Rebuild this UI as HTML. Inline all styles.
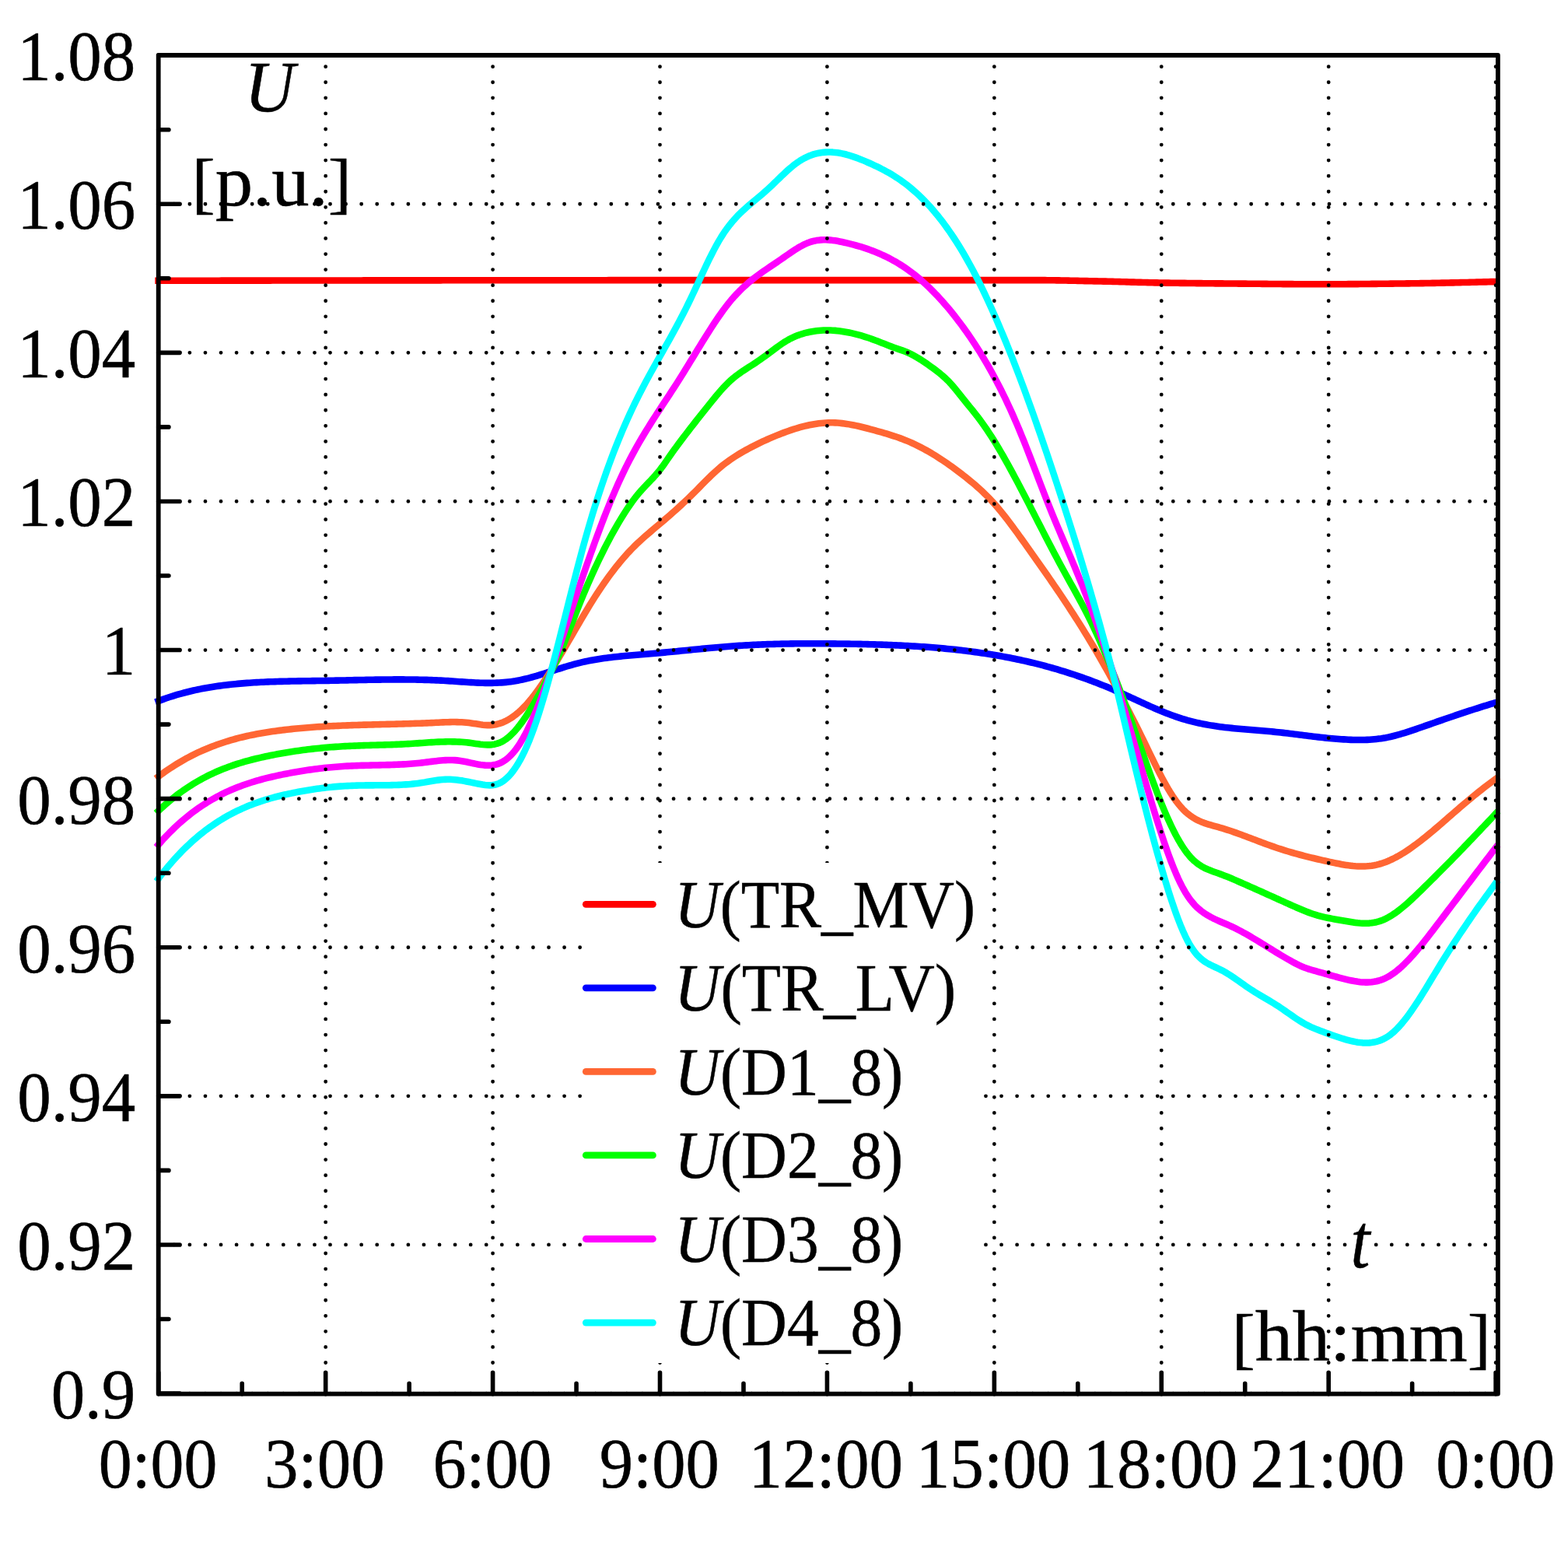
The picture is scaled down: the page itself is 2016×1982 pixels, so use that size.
<!DOCTYPE html>
<html lang="en">
<head>
<meta charset="utf-8">
<title>Voltage profile U [p.u.] over t [hh:mm]</title>
<style>
html,body{margin:0;padding:0;background:#fff;}
body{width:2016px;height:1982px;overflow:hidden;}
svg{display:block;}
text{font-family:"Liberation Serif", serif;fill:#000;}
</style>
</head>
<body>
<svg xmlns="http://www.w3.org/2000/svg" width="2016" height="1982" viewBox="0 0 2016 1982">
<rect width="2016" height="1982" fill="#fff"/>
<g fill="none" stroke-width="8.6" stroke-linejoin="round" stroke-linecap="square">
<path stroke="#ff0000" d="M203.6 360.8 L206.6 360.8 L209.6 360.79 L212.6 360.79 L215.6 360.78 L218.6 360.78 L221.6 360.77 L224.6 360.77 L227.6 360.76 L230.6 360.76 L233.6 360.75 L236.6 360.75 L239.6 360.74 L242.6 360.74 L245.6 360.73 L248.6 360.73 L251.6 360.72 L254.6 360.72 L257.6 360.71 L260.6 360.71 L263.6 360.7 L266.6 360.7 L269.6 360.69 L272.6 360.69 L275.6 360.69 L278.6 360.68 L281.6 360.68 L284.6 360.67 L287.6 360.67 L290.6 360.66 L293.6 360.66 L296.6 360.65 L299.6 360.65 L302.6 360.64 L305.6 360.64 L308.6 360.63 L311.6 360.63 L314.6 360.63 L317.6 360.62 L320.6 360.62 L323.6 360.61 L326.6 360.61 L329.6 360.6 L332.6 360.6 L335.6 360.6 L338.6 360.59 L341.6 360.59 L344.6 360.58 L347.6 360.58 L350.6 360.57 L353.6 360.57 L356.6 360.57 L359.6 360.56 L362.6 360.56 L365.6 360.55 L368.6 360.55 L371.6 360.54 L374.6 360.54 L377.6 360.54 L380.6 360.53 L383.6 360.53 L386.6 360.52 L389.6 360.52 L392.6 360.52 L395.6 360.51 L398.6 360.51 L401.6 360.5 L404.6 360.5 L407.6 360.5 L410.6 360.49 L413.6 360.49 L416.6 360.49 L419.6 360.48 L422.6 360.48 L425.6 360.47 L428.6 360.47 L431.6 360.47 L434.6 360.46 L437.6 360.46 L440.6 360.46 L443.6 360.45 L446.6 360.45 L449.6 360.44 L452.6 360.44 L455.6 360.44 L458.6 360.43 L461.6 360.43 L464.6 360.43 L467.6 360.42 L470.6 360.42 L473.6 360.42 L476.6 360.41 L479.6 360.41 L482.6 360.41 L485.6 360.4 L488.6 360.4 L491.6 360.4 L494.6 360.39 L497.6 360.39 L500.6 360.39 L503.6 360.38 L506.6 360.38 L509.6 360.38 L512.6 360.38 L515.6 360.37 L518.6 360.37 L521.6 360.37 L524.6 360.36 L527.6 360.36 L530.6 360.36 L533.6 360.36 L536.6 360.35 L539.6 360.35 L542.6 360.35 L545.6 360.34 L548.6 360.34 L551.6 360.34 L554.6 360.34 L557.6 360.33 L560.6 360.33 L563.6 360.33 L566.6 360.33 L569.6 360.32 L572.6 360.32 L575.6 360.32 L578.6 360.32 L581.6 360.31 L584.6 360.31 L587.6 360.31 L590.6 360.31 L593.6 360.3 L596.6 360.3 L599.6 360.3 L602.6 360.3 L605.6 360.3 L608.6 360.29 L611.6 360.29 L614.6 360.29 L617.6 360.29 L620.6 360.29 L623.6 360.28 L626.6 360.28 L629.6 360.28 L632.6 360.28 L635.6 360.27 L638.6 360.27 L641.6 360.27 L644.6 360.27 L647.6 360.27 L650.6 360.26 L653.6 360.26 L656.6 360.26 L659.6 360.26 L662.6 360.25 L665.6 360.25 L668.6 360.25 L671.6 360.25 L674.6 360.25 L677.6 360.24 L680.6 360.24 L683.6 360.24 L686.6 360.24 L689.6 360.24 L692.6 360.23 L695.6 360.23 L698.6 360.23 L701.6 360.23 L704.6 360.23 L707.6 360.22 L710.6 360.22 L713.6 360.22 L716.6 360.22 L719.6 360.21 L722.6 360.21 L725.6 360.21 L728.6 360.21 L731.6 360.21 L734.6 360.2 L737.6 360.2 L740.6 360.2 L743.6 360.2 L746.6 360.2 L749.6 360.19 L752.6 360.19 L755.6 360.19 L758.6 360.19 L761.6 360.19 L764.6 360.19 L767.6 360.18 L770.6 360.18 L773.6 360.18 L776.6 360.18 L779.6 360.18 L782.6 360.17 L785.6 360.17 L788.6 360.17 L791.6 360.17 L794.6 360.17 L797.6 360.17 L800.6 360.16 L803.6 360.16 L806.6 360.16 L809.6 360.16 L812.6 360.16 L815.6 360.16 L818.6 360.15 L821.6 360.15 L824.6 360.15 L827.6 360.15 L830.6 360.15 L833.6 360.15 L836.6 360.14 L839.6 360.14 L842.6 360.14 L845.6 360.14 L848.6 360.14 L851.6 360.14 L854.6 360.14 L857.6 360.13 L860.6 360.13 L863.6 360.13 L866.6 360.13 L869.6 360.13 L872.6 360.13 L875.6 360.13 L878.6 360.13 L881.6 360.12 L884.6 360.12 L887.6 360.12 L890.6 360.12 L893.6 360.12 L896.6 360.12 L899.6 360.12 L902.6 360.12 L905.6 360.12 L908.6 360.12 L911.6 360.11 L914.6 360.11 L917.6 360.11 L920.6 360.11 L923.6 360.11 L926.6 360.11 L929.6 360.11 L932.6 360.11 L935.6 360.11 L938.6 360.11 L941.6 360.11 L944.6 360.11 L947.6 360.11 L950.6 360.1 L953.6 360.1 L956.6 360.1 L959.6 360.1 L962.6 360.1 L965.6 360.1 L968.6 360.1 L971.6 360.1 L974.6 360.1 L977.6 360.1 L980.6 360.1 L983.6 360.1 L986.6 360.1 L989.6 360.1 L992.6 360.1 L995.6 360.1 L998.6 360.1 L1001.6 360.1 L1004.6 360.1 L1007.6 360.1 L1010.6 360.1 L1013.6 360.1 L1016.6 360.1 L1019.6 360.1 L1022.6 360.1 L1025.6 360.1 L1028.6 360.1 L1031.6 360.1 L1034.6 360.1 L1037.6 360.1 L1040.6 360.1 L1043.6 360.1 L1046.6 360.1 L1049.6 360.1 L1052.6 360.1 L1055.6 360.1 L1058.6 360.1 L1061.6 360.1 L1064.6 360.1 L1067.6 360.1 L1070.6 360.1 L1073.6 360.1 L1076.6 360.1 L1079.6 360.1 L1082.6 360.1 L1085.6 360.1 L1088.6 360.1 L1091.6 360.1 L1094.6 360.1 L1097.6 360.1 L1100.6 360.1 L1103.6 360.1 L1106.6 360.1 L1109.6 360.1 L1112.6 360.1 L1115.6 360.1 L1118.6 360.1 L1121.6 360.1 L1124.6 360.1 L1127.6 360.1 L1130.6 360.1 L1133.6 360.1 L1136.6 360.1 L1139.6 360.1 L1142.6 360.1 L1145.6 360.1 L1148.6 360.1 L1151.6 360.1 L1154.6 360.1 L1157.6 360.1 L1160.6 360.1 L1163.6 360.1 L1166.6 360.1 L1169.6 360.1 L1172.6 360.1 L1175.6 360.1 L1178.6 360.1 L1181.6 360.1 L1184.6 360.1 L1187.6 360.1 L1190.6 360.1 L1193.6 360.1 L1196.6 360.1 L1199.6 360.1 L1202.6 360.1 L1205.6 360.1 L1208.6 360.1 L1211.6 360.1 L1214.6 360.1 L1217.6 360.1 L1220.6 360.1 L1223.6 360.1 L1226.6 360.1 L1229.6 360.1 L1232.6 360.1 L1235.6 360.1 L1238.6 360.1 L1241.6 360.1 L1244.6 360.1 L1247.6 360.1 L1250.6 360.1 L1253.6 360.1 L1256.6 360.1 L1259.6 360.1 L1262.6 360.1 L1265.6 360.1 L1268.6 360.1 L1271.6 360.1 L1274.6 360.1 L1277.6 360.1 L1280.6 360.1 L1283.6 360.1 L1286.6 360.1 L1289.6 360.1 L1292.6 360.1 L1295.6 360.1 L1298.6 360.1 L1301.6 360.1 L1304.6 360.1 L1307.6 360.1 L1310.6 360.1 L1313.6 360.1 L1316.6 360.1 L1319.6 360.1 L1322.6 360.1 L1325.6 360.1 L1328.6 360.1 L1331.6 360.1 L1334.6 360.11 L1337.6 360.12 L1340.6 360.14 L1343.6 360.16 L1346.6 360.19 L1349.6 360.22 L1352.6 360.26 L1355.6 360.3 L1358.6 360.35 L1361.6 360.4 L1364.6 360.45 L1367.6 360.51 L1370.6 360.56 L1373.6 360.62 L1376.6 360.69 L1379.6 360.75 L1382.6 360.81 L1385.6 360.88 L1388.6 360.94 L1391.6 361.01 L1394.6 361.08 L1397.6 361.14 L1400.6 361.21 L1403.6 361.27 L1406.6 361.33 L1409.6 361.39 L1412.6 361.45 L1415.6 361.52 L1418.6 361.59 L1421.6 361.66 L1424.6 361.73 L1427.6 361.81 L1430.6 361.89 L1433.6 361.97 L1436.6 362.06 L1439.6 362.14 L1442.6 362.23 L1445.6 362.31 L1448.6 362.4 L1451.6 362.49 L1454.6 362.58 L1457.6 362.66 L1460.6 362.75 L1463.6 362.83 L1466.6 362.91 L1469.6 362.99 L1472.6 363.07 L1475.6 363.14 L1478.6 363.21 L1481.6 363.28 L1484.6 363.34 L1487.6 363.4 L1490.6 363.45 L1493.6 363.5 L1496.6 363.55 L1499.6 363.59 L1502.6 363.63 L1505.6 363.68 L1508.6 363.72 L1511.6 363.76 L1514.6 363.8 L1517.6 363.84 L1520.6 363.87 L1523.6 363.91 L1526.6 363.95 L1529.6 363.98 L1532.6 364.02 L1535.6 364.05 L1538.6 364.08 L1541.6 364.12 L1544.6 364.15 L1547.6 364.18 L1550.6 364.21 L1553.6 364.24 L1556.6 364.27 L1559.6 364.3 L1562.6 364.33 L1565.6 364.35 L1568.6 364.38 L1571.6 364.41 L1574.6 364.44 L1577.6 364.46 L1580.6 364.49 L1583.6 364.51 L1586.6 364.54 L1589.6 364.56 L1592.6 364.59 L1595.6 364.61 L1598.6 364.64 L1601.6 364.66 L1604.6 364.69 L1607.6 364.72 L1610.6 364.74 L1613.6 364.77 L1616.6 364.8 L1619.6 364.82 L1622.6 364.85 L1625.6 364.88 L1628.6 364.9 L1631.6 364.93 L1634.6 364.96 L1637.6 364.98 L1640.6 365.01 L1643.6 365.03 L1646.6 365.06 L1649.6 365.08 L1652.6 365.1 L1655.6 365.12 L1658.6 365.14 L1661.6 365.16 L1664.6 365.18 L1667.6 365.2 L1670.6 365.22 L1673.6 365.23 L1676.6 365.25 L1679.6 365.26 L1682.6 365.27 L1685.6 365.28 L1688.6 365.29 L1691.6 365.29 L1694.6 365.3 L1697.6 365.3 L1700.6 365.3 L1703.6 365.3 L1706.6 365.29 L1709.6 365.29 L1712.6 365.28 L1715.6 365.27 L1718.6 365.26 L1721.6 365.25 L1724.6 365.23 L1727.6 365.21 L1730.6 365.19 L1733.6 365.17 L1736.6 365.15 L1739.6 365.13 L1742.6 365.11 L1745.6 365.08 L1748.6 365.05 L1751.6 365.03 L1754.6 365 L1757.6 364.97 L1760.6 364.94 L1763.6 364.91 L1766.6 364.88 L1769.6 364.84 L1772.6 364.81 L1775.6 364.78 L1778.6 364.74 L1781.6 364.71 L1784.6 364.68 L1787.6 364.64 L1790.6 364.61 L1793.6 364.57 L1796.6 364.54 L1799.6 364.5 L1802.6 364.47 L1805.6 364.43 L1808.6 364.4 L1811.6 364.36 L1814.6 364.32 L1817.6 364.27 L1820.6 364.23 L1823.6 364.18 L1826.6 364.14 L1829.6 364.09 L1832.6 364.04 L1835.6 363.99 L1838.6 363.94 L1841.6 363.88 L1844.6 363.83 L1847.6 363.77 L1850.6 363.71 L1853.6 363.65 L1856.6 363.59 L1859.6 363.53 L1862.6 363.47 L1865.6 363.41 L1868.6 363.34 L1871.6 363.28 L1874.6 363.21 L1877.6 363.14 L1880.6 363.07 L1883.6 363 L1886.6 362.93 L1889.6 362.86 L1892.6 362.79 L1895.6 362.71 L1898.6 362.64 L1901.6 362.56 L1904.6 362.49 L1907.6 362.41 L1910.6 362.33 L1913.6 362.25 L1916.6 362.17 L1919.6 362.09 L1922.6 362.01 L1923 362"/>
<path stroke="#0000ff" d="M203.71 901.12 L206.71 899.99 L209.71 898.88 L212.71 897.82 L215.71 896.79 L218.71 895.79 L221.71 894.82 L224.71 893.89 L227.71 892.99 L230.71 892.13 L233.71 891.29 L236.71 890.48 L239.71 889.71 L242.71 888.96 L245.71 888.24 L248.71 887.55 L251.71 886.89 L254.71 886.25 L257.71 885.64 L260.71 885.06 L263.71 884.5 L266.71 883.96 L269.71 883.45 L272.71 882.96 L275.71 882.49 L278.71 882.04 L281.71 881.62 L284.71 881.21 L287.71 880.82 L290.71 880.46 L293.71 880.11 L296.71 879.78 L299.71 879.47 L302.71 879.17 L305.71 878.89 L308.71 878.62 L311.71 878.37 L314.71 878.13 L317.71 877.91 L320.71 877.7 L323.71 877.5 L326.71 877.32 L329.71 877.14 L332.71 876.98 L335.71 876.82 L338.71 876.68 L341.71 876.54 L344.71 876.42 L347.71 876.3 L350.71 876.2 L353.71 876.1 L356.71 876 L359.71 875.92 L362.71 875.84 L365.71 875.76 L368.71 875.69 L371.71 875.63 L374.71 875.57 L377.71 875.51 L380.71 875.46 L383.71 875.41 L386.71 875.37 L389.71 875.32 L392.71 875.28 L395.71 875.24 L398.71 875.2 L401.71 875.16 L404.71 875.12 L407.71 875.07 L410.71 875.03 L413.71 874.99 L416.71 874.94 L419.71 874.89 L422.71 874.84 L425.71 874.79 L428.71 874.73 L431.71 874.67 L434.71 874.61 L437.71 874.55 L440.71 874.49 L443.71 874.43 L446.71 874.36 L449.71 874.3 L452.71 874.23 L455.71 874.17 L458.71 874.11 L461.71 874.05 L464.71 873.99 L467.71 873.93 L470.71 873.87 L473.71 873.81 L476.71 873.76 L479.71 873.71 L482.71 873.66 L485.71 873.62 L488.71 873.58 L491.71 873.54 L494.71 873.51 L497.71 873.48 L500.71 873.46 L503.71 873.44 L506.71 873.42 L509.71 873.41 L512.71 873.41 L515.71 873.41 L518.71 873.42 L521.71 873.44 L524.71 873.46 L527.71 873.49 L530.71 873.53 L533.71 873.57 L536.71 873.62 L539.71 873.69 L542.71 873.76 L545.71 873.83 L548.71 873.92 L551.71 874.02 L554.71 874.12 L557.71 874.24 L560.71 874.37 L563.71 874.51 L566.71 874.65 L569.71 874.81 L572.71 874.98 L575.71 875.16 L578.71 875.36 L581.71 875.56 L584.71 875.76 L587.71 875.97 L590.71 876.17 L593.71 876.38 L596.71 876.58 L599.71 876.78 L602.71 876.96 L605.71 877.14 L608.71 877.3 L611.71 877.45 L614.71 877.58 L617.71 877.68 L620.71 877.77 L623.71 877.83 L626.71 877.86 L629.71 877.86 L632.71 877.84 L635.71 877.77 L638.71 877.67 L641.71 877.53 L644.71 877.35 L647.71 877.13 L650.71 876.86 L653.71 876.54 L656.71 876.17 L659.71 875.74 L662.71 875.27 L665.71 874.73 L668.71 874.14 L671.71 873.5 L674.71 872.81 L677.71 872.08 L680.71 871.31 L683.71 870.5 L686.71 869.66 L689.71 868.79 L692.71 867.9 L695.71 866.98 L698.71 866.04 L701.71 865.1 L704.71 864.14 L707.71 863.17 L710.71 862.2 L713.71 861.23 L716.71 860.26 L719.71 859.31 L722.71 858.36 L725.71 857.43 L728.71 856.51 L731.71 855.62 L734.71 854.76 L737.71 853.92 L740.71 853.12 L743.71 852.35 L746.71 851.63 L749.71 850.93 L752.71 850.28 L755.71 849.65 L758.71 849.06 L761.71 848.5 L764.71 847.96 L767.71 847.46 L770.71 846.98 L773.71 846.52 L776.71 846.09 L779.71 845.68 L782.71 845.3 L785.71 844.93 L788.71 844.58 L791.71 844.24 L794.71 843.92 L797.71 843.62 L800.71 843.32 L803.71 843.04 L806.71 842.77 L809.71 842.5 L812.71 842.24 L815.71 841.99 L818.71 841.74 L821.71 841.49 L824.71 841.25 L827.71 841 L830.71 840.76 L833.71 840.51 L836.71 840.25 L839.71 839.99 L842.71 839.72 L845.71 839.45 L848.71 839.18 L851.71 838.9 L854.71 838.62 L857.71 838.33 L860.71 838.04 L863.71 837.75 L866.71 837.46 L869.71 837.16 L872.71 836.87 L875.71 836.57 L878.71 836.27 L881.71 835.97 L884.71 835.67 L887.71 835.37 L890.71 835.08 L893.71 834.78 L896.71 834.49 L899.71 834.19 L902.71 833.9 L905.71 833.62 L908.71 833.33 L911.71 833.05 L914.71 832.78 L917.71 832.5 L920.71 832.24 L923.71 831.97 L926.71 831.72 L929.71 831.47 L932.71 831.22 L935.71 830.98 L938.71 830.75 L941.71 830.53 L944.71 830.31 L947.71 830.1 L950.71 829.9 L953.71 829.71 L956.71 829.53 L959.71 829.35 L962.71 829.19 L965.71 829.03 L968.71 828.88 L971.71 828.73 L974.71 828.6 L977.71 828.47 L980.71 828.35 L983.71 828.23 L986.71 828.12 L989.71 828.02 L992.71 827.93 L995.71 827.84 L998.71 827.76 L1001.71 827.68 L1004.71 827.62 L1007.71 827.55 L1010.71 827.5 L1013.71 827.44 L1016.71 827.4 L1019.71 827.36 L1022.71 827.32 L1025.71 827.29 L1028.71 827.27 L1031.71 827.25 L1034.71 827.23 L1037.71 827.22 L1040.71 827.21 L1043.71 827.21 L1046.71 827.21 L1049.71 827.22 L1052.71 827.23 L1055.71 827.24 L1058.71 827.26 L1061.71 827.28 L1064.71 827.3 L1067.71 827.33 L1070.71 827.36 L1073.71 827.39 L1076.71 827.43 L1079.71 827.46 L1082.71 827.51 L1085.71 827.55 L1088.71 827.59 L1091.71 827.64 L1094.71 827.69 L1097.71 827.75 L1100.71 827.8 L1103.71 827.86 L1106.71 827.92 L1109.71 827.99 L1112.71 828.06 L1115.71 828.13 L1118.71 828.21 L1121.71 828.29 L1124.71 828.38 L1127.71 828.47 L1130.71 828.56 L1133.71 828.66 L1136.71 828.76 L1139.71 828.87 L1142.71 828.99 L1145.71 829.1 L1148.71 829.23 L1151.71 829.36 L1154.71 829.49 L1157.71 829.63 L1160.71 829.78 L1163.71 829.93 L1166.71 830.09 L1169.71 830.26 L1172.71 830.43 L1175.71 830.61 L1178.71 830.8 L1181.71 830.99 L1184.71 831.19 L1187.71 831.4 L1190.71 831.61 L1193.71 831.83 L1196.71 832.06 L1199.71 832.3 L1202.71 832.55 L1205.71 832.8 L1208.71 833.07 L1211.71 833.34 L1214.71 833.62 L1217.71 833.91 L1220.71 834.2 L1223.71 834.51 L1226.71 834.83 L1229.71 835.15 L1232.71 835.49 L1235.71 835.83 L1238.71 836.19 L1241.71 836.55 L1244.71 836.93 L1247.71 837.31 L1250.71 837.71 L1253.71 838.12 L1256.71 838.53 L1259.71 838.96 L1262.71 839.4 L1265.71 839.85 L1268.71 840.31 L1271.71 840.79 L1274.71 841.27 L1277.71 841.77 L1280.71 842.28 L1283.71 842.8 L1286.71 843.33 L1289.71 843.88 L1292.71 844.44 L1295.71 845.01 L1298.71 845.59 L1301.71 846.19 L1304.71 846.8 L1307.71 847.43 L1310.71 848.06 L1313.71 848.71 L1316.71 849.38 L1319.71 850.06 L1322.71 850.75 L1325.71 851.46 L1328.71 852.18 L1331.71 852.92 L1334.71 853.67 L1337.71 854.43 L1340.71 855.21 L1343.71 856.01 L1346.71 856.82 L1349.71 857.65 L1352.71 858.49 L1355.71 859.35 L1358.71 860.22 L1361.71 861.11 L1364.71 862.01 L1367.71 862.94 L1370.71 863.87 L1373.71 864.83 L1376.71 865.8 L1379.71 866.78 L1382.71 867.79 L1385.71 868.8 L1388.71 869.84 L1391.71 870.89 L1394.71 871.96 L1397.71 873.05 L1400.71 874.15 L1403.71 875.27 L1406.71 876.41 L1409.71 877.56 L1412.71 878.73 L1415.71 879.92 L1418.71 881.13 L1421.71 882.35 L1424.71 883.59 L1427.71 884.85 L1430.71 886.13 L1433.71 887.43 L1436.71 888.74 L1439.71 890.07 L1442.71 891.41 L1445.71 892.76 L1448.71 894.13 L1451.71 895.5 L1454.71 896.87 L1457.71 898.25 L1460.71 899.63 L1463.71 901.01 L1466.71 902.39 L1469.71 903.76 L1472.71 905.12 L1475.71 906.47 L1478.71 907.81 L1481.71 909.14 L1484.71 910.44 L1487.71 911.73 L1490.71 913 L1493.71 914.25 L1496.71 915.47 L1499.71 916.67 L1502.71 917.83 L1505.71 918.97 L1508.71 920.07 L1511.71 921.13 L1514.71 922.16 L1517.71 923.14 L1520.71 924.09 L1523.71 924.99 L1526.71 925.84 L1529.71 926.66 L1532.71 927.43 L1535.71 928.17 L1538.71 928.87 L1541.71 929.53 L1544.71 930.16 L1547.71 930.76 L1550.71 931.33 L1553.71 931.86 L1556.71 932.37 L1559.71 932.85 L1562.71 933.3 L1565.71 933.73 L1568.71 934.14 L1571.71 934.53 L1574.71 934.9 L1577.71 935.24 L1580.71 935.58 L1583.71 935.89 L1586.71 936.2 L1589.71 936.49 L1592.71 936.76 L1595.71 937.03 L1598.71 937.3 L1601.71 937.55 L1604.71 937.8 L1607.71 938.04 L1610.71 938.29 L1613.71 938.53 L1616.71 938.77 L1619.71 939.02 L1622.71 939.27 L1625.71 939.52 L1628.71 939.78 L1631.71 940.05 L1634.71 940.32 L1637.71 940.61 L1640.71 940.91 L1643.71 941.22 L1646.71 941.55 L1649.71 941.88 L1652.71 942.22 L1655.71 942.58 L1658.71 942.93 L1661.71 943.3 L1664.71 943.67 L1667.71 944.04 L1670.71 944.42 L1673.71 944.79 L1676.71 945.17 L1679.71 945.54 L1682.71 945.92 L1685.71 946.29 L1688.71 946.65 L1691.71 947.01 L1694.71 947.36 L1697.71 947.7 L1700.71 948.03 L1703.71 948.35 L1706.71 948.66 L1709.71 948.96 L1712.71 949.24 L1715.71 949.51 L1718.71 949.75 L1721.71 949.99 L1724.71 950.2 L1727.71 950.39 L1730.71 950.56 L1733.71 950.71 L1736.71 950.83 L1739.71 950.93 L1742.71 951 L1745.71 951.04 L1748.71 951.04 L1751.71 951.01 L1754.71 950.94 L1757.71 950.83 L1760.71 950.68 L1763.71 950.48 L1766.71 950.23 L1769.71 949.93 L1772.71 949.58 L1775.71 949.18 L1778.71 948.71 L1781.71 948.19 L1784.71 947.6 L1787.71 946.95 L1790.71 946.25 L1793.71 945.5 L1796.71 944.7 L1799.71 943.86 L1802.71 942.98 L1805.71 942.07 L1808.71 941.12 L1811.71 940.15 L1814.71 939.15 L1817.71 938.14 L1820.71 937.11 L1823.71 936.06 L1826.71 935.02 L1829.71 933.97 L1832.71 932.92 L1835.71 931.87 L1838.71 930.82 L1841.71 929.77 L1844.71 928.72 L1847.71 927.68 L1850.71 926.64 L1853.71 925.6 L1856.71 924.56 L1859.71 923.53 L1862.71 922.5 L1865.71 921.48 L1868.71 920.45 L1871.71 919.44 L1874.71 918.43 L1877.71 917.42 L1880.71 916.42 L1883.71 915.42 L1886.71 914.44 L1889.71 913.45 L1892.71 912.48 L1895.71 911.51 L1898.71 910.55 L1901.71 909.6 L1904.71 908.65 L1907.71 907.72 L1910.71 906.79 L1913.71 905.87 L1916.71 904.96 L1919.71 904.06 L1922.71 903.17 L1922.83 903.14"/>
<path stroke="#ff6633" d="M203.71 998.18 L206.71 995.93 L209.71 993.74 L212.71 991.61 L215.71 989.54 L218.71 987.51 L221.71 985.55 L224.71 983.63 L227.71 981.77 L230.71 979.96 L233.71 978.2 L236.71 976.49 L239.71 974.82 L242.71 973.21 L245.71 971.65 L248.71 970.13 L251.71 968.65 L254.71 967.22 L257.71 965.84 L260.71 964.5 L263.71 963.2 L266.71 961.94 L269.71 960.72 L272.71 959.54 L275.71 958.4 L278.71 957.3 L281.71 956.24 L284.71 955.21 L287.71 954.22 L290.71 953.26 L293.71 952.34 L296.71 951.44 L299.71 950.59 L302.71 949.76 L305.71 948.96 L308.71 948.2 L311.71 947.46 L314.71 946.75 L317.71 946.06 L320.71 945.41 L323.71 944.78 L326.71 944.17 L329.71 943.59 L332.71 943.03 L335.71 942.49 L338.71 941.97 L341.71 941.48 L344.71 941 L347.71 940.54 L350.71 940.1 L353.71 939.68 L356.71 939.27 L359.71 938.88 L362.71 938.51 L365.71 938.14 L368.71 937.79 L371.71 937.46 L374.71 937.13 L377.71 936.82 L380.71 936.52 L383.71 936.23 L386.71 935.96 L389.71 935.69 L392.71 935.44 L395.71 935.19 L398.71 934.96 L401.71 934.73 L404.71 934.52 L407.71 934.31 L410.71 934.12 L413.71 933.93 L416.71 933.75 L419.71 933.58 L422.71 933.41 L425.71 933.26 L428.71 933.11 L431.71 932.97 L434.71 932.83 L437.71 932.7 L440.71 932.57 L443.71 932.46 L446.71 932.34 L449.71 932.23 L452.71 932.13 L455.71 932.03 L458.71 931.93 L461.71 931.84 L464.71 931.75 L467.71 931.67 L470.71 931.58 L473.71 931.5 L476.71 931.43 L479.71 931.35 L482.71 931.27 L485.71 931.2 L488.71 931.13 L491.71 931.05 L494.71 930.98 L497.71 930.91 L500.71 930.84 L503.71 930.76 L506.71 930.69 L509.71 930.61 L512.71 930.54 L515.71 930.46 L518.71 930.37 L521.71 930.29 L524.71 930.2 L527.71 930.11 L530.71 930.02 L533.71 929.92 L536.71 929.82 L539.71 929.71 L542.71 929.6 L545.71 929.49 L548.71 929.37 L551.71 929.24 L554.71 929.11 L557.71 928.97 L560.71 928.82 L563.71 928.68 L566.71 928.54 L569.71 928.4 L572.71 928.29 L575.71 928.19 L578.71 928.12 L581.71 928.07 L584.71 928.07 L587.71 928.1 L590.71 928.18 L593.71 928.31 L596.71 928.49 L599.71 928.74 L602.71 929.06 L605.71 929.44 L608.71 929.89 L611.71 930.37 L614.71 930.86 L617.71 931.31 L620.71 931.69 L623.71 931.98 L626.71 932.14 L629.71 932.13 L632.71 931.94 L635.71 931.54 L638.71 930.94 L641.71 930.14 L644.71 929.14 L647.71 927.94 L650.71 926.53 L653.71 924.92 L656.71 923.1 L659.71 921.07 L662.71 918.84 L665.71 916.39 L668.71 913.74 L671.71 910.88 L674.71 907.81 L677.71 904.54 L680.71 901.08 L683.71 897.44 L686.71 893.63 L689.71 889.66 L692.71 885.55 L695.71 881.29 L698.71 876.91 L701.71 872.4 L704.71 867.78 L707.71 863.07 L710.71 858.26 L713.71 853.37 L716.71 848.41 L719.71 843.39 L722.71 838.32 L725.71 833.21 L728.71 828.07 L731.71 822.9 L734.71 817.73 L737.71 812.55 L740.71 807.38 L743.71 802.23 L746.71 797.1 L749.71 792.01 L752.71 786.97 L755.71 781.99 L758.71 777.08 L761.71 772.24 L764.71 767.48 L767.71 762.83 L770.71 758.27 L773.71 753.81 L776.71 749.46 L779.71 745.2 L782.71 741.04 L785.71 736.99 L788.71 733.04 L791.71 729.19 L794.71 725.44 L797.71 721.8 L800.71 718.25 L803.71 714.82 L806.71 711.48 L809.71 708.25 L812.71 705.13 L815.71 702.11 L818.71 699.19 L821.71 696.35 L824.71 693.6 L827.71 690.9 L830.71 688.26 L833.71 685.67 L836.71 683.11 L839.71 680.57 L842.71 678.05 L845.71 675.53 L848.71 673 L851.71 670.45 L854.71 667.89 L857.71 665.3 L860.71 662.69 L863.71 660.05 L866.71 657.39 L869.71 654.7 L872.71 651.98 L875.71 649.22 L878.71 646.44 L881.71 643.61 L884.71 640.75 L887.71 637.85 L890.71 634.91 L893.71 631.93 L896.71 628.91 L899.71 625.87 L902.71 622.83 L905.71 619.79 L908.71 616.79 L911.71 613.82 L914.71 610.91 L917.71 608.07 L920.71 605.32 L923.71 602.67 L926.71 600.14 L929.71 597.71 L932.71 595.39 L935.71 593.17 L938.71 591.03 L941.71 588.99 L944.71 587.02 L947.71 585.12 L950.71 583.29 L953.71 581.52 L956.71 579.8 L959.71 578.13 L962.71 576.5 L965.71 574.91 L968.71 573.35 L971.71 571.83 L974.71 570.34 L977.71 568.89 L980.71 567.46 L983.71 566.08 L986.71 564.72 L989.71 563.4 L992.71 562.11 L995.71 560.85 L998.71 559.62 L1001.71 558.42 L1004.71 557.25 L1007.71 556.11 L1010.71 555.01 L1013.71 553.94 L1016.71 552.92 L1019.71 551.93 L1022.71 550.98 L1025.71 550.08 L1028.71 549.23 L1031.71 548.42 L1034.71 547.67 L1037.71 546.97 L1040.71 546.32 L1043.71 545.73 L1046.71 545.2 L1049.71 544.73 L1052.71 544.32 L1055.71 543.98 L1058.71 543.7 L1061.71 543.49 L1064.71 543.35 L1067.71 543.29 L1070.71 543.3 L1073.71 543.39 L1076.71 543.56 L1079.71 543.79 L1082.71 544.1 L1085.71 544.46 L1088.71 544.89 L1091.71 545.38 L1094.71 545.91 L1097.71 546.49 L1100.71 547.12 L1103.71 547.78 L1106.71 548.48 L1109.71 549.22 L1112.71 549.98 L1115.71 550.76 L1118.71 551.56 L1121.71 552.38 L1124.71 553.21 L1127.71 554.04 L1130.71 554.88 L1133.71 555.73 L1136.71 556.6 L1139.71 557.48 L1142.71 558.39 L1145.71 559.32 L1148.71 560.28 L1151.71 561.27 L1154.71 562.3 L1157.71 563.38 L1160.71 564.49 L1163.71 565.66 L1166.71 566.89 L1169.71 568.16 L1172.71 569.5 L1175.71 570.89 L1178.71 572.33 L1181.71 573.82 L1184.71 575.37 L1187.71 576.97 L1190.71 578.62 L1193.71 580.32 L1196.71 582.06 L1199.71 583.86 L1202.71 585.7 L1205.71 587.58 L1208.71 589.51 L1211.71 591.49 L1214.71 593.51 L1217.71 595.57 L1220.71 597.67 L1223.71 599.81 L1226.71 601.99 L1229.71 604.21 L1232.71 606.46 L1235.71 608.76 L1238.71 611.08 L1241.71 613.45 L1244.71 615.85 L1247.71 618.3 L1250.71 620.79 L1253.71 623.35 L1256.71 625.98 L1259.71 628.67 L1262.71 631.44 L1265.71 634.3 L1268.71 637.26 L1271.71 640.31 L1274.71 643.47 L1277.71 646.74 L1280.71 650.13 L1283.71 653.64 L1286.71 657.25 L1289.71 660.96 L1292.71 664.76 L1295.71 668.64 L1298.71 672.59 L1301.71 676.61 L1304.71 680.68 L1307.71 684.79 L1310.71 688.94 L1313.71 693.12 L1316.71 697.32 L1319.71 701.52 L1322.71 705.74 L1325.71 709.95 L1328.71 714.18 L1331.71 718.41 L1334.71 722.66 L1337.71 726.92 L1340.71 731.19 L1343.71 735.48 L1346.71 739.79 L1349.71 744.12 L1352.71 748.47 L1355.71 752.84 L1358.71 757.24 L1361.71 761.67 L1364.71 766.13 L1367.71 770.61 L1370.71 775.13 L1373.71 779.69 L1376.71 784.27 L1379.71 788.9 L1382.71 793.57 L1385.71 798.27 L1388.71 803.03 L1391.71 807.82 L1394.71 812.66 L1397.71 817.55 L1400.71 822.49 L1403.71 827.48 L1406.71 832.53 L1409.71 837.63 L1412.71 842.79 L1415.71 848 L1418.71 853.27 L1421.71 858.59 L1424.71 863.96 L1427.71 869.39 L1430.71 874.88 L1433.71 880.41 L1436.71 886 L1439.71 891.64 L1442.71 897.33 L1445.71 903.07 L1448.71 908.86 L1451.71 914.7 L1454.71 920.59 L1457.71 926.53 L1460.71 932.51 L1463.71 938.54 L1466.71 944.62 L1469.71 950.74 L1472.71 956.91 L1475.71 963.11 L1478.71 969.3 L1481.71 975.47 L1484.71 981.57 L1487.71 987.59 L1490.71 993.49 L1493.71 999.24 L1496.71 1004.82 L1499.71 1010.19 L1502.71 1015.33 L1505.71 1020.2 L1508.71 1024.78 L1511.71 1029.04 L1514.71 1032.99 L1517.71 1036.62 L1520.71 1039.93 L1523.71 1042.92 L1526.71 1045.59 L1529.71 1047.98 L1532.71 1050.1 L1535.71 1051.98 L1538.71 1053.64 L1541.71 1055.12 L1544.71 1056.42 L1547.71 1057.58 L1550.71 1058.63 L1553.71 1059.57 L1556.71 1060.46 L1559.71 1061.29 L1562.71 1062.11 L1565.71 1062.93 L1568.71 1063.77 L1571.71 1064.66 L1574.71 1065.58 L1577.71 1066.53 L1580.71 1067.52 L1583.71 1068.53 L1586.71 1069.57 L1589.71 1070.63 L1592.71 1071.71 L1595.71 1072.8 L1598.71 1073.92 L1601.71 1075.04 L1604.71 1076.17 L1607.71 1077.31 L1610.71 1078.45 L1613.71 1079.59 L1616.71 1080.73 L1619.71 1081.86 L1622.71 1082.99 L1625.71 1084.11 L1628.71 1085.22 L1631.71 1086.31 L1634.71 1087.38 L1637.71 1088.43 L1640.71 1089.46 L1643.71 1090.47 L1646.71 1091.44 L1649.71 1092.4 L1652.71 1093.33 L1655.71 1094.24 L1658.71 1095.13 L1661.71 1096 L1664.71 1096.85 L1667.71 1097.68 L1670.71 1098.49 L1673.71 1099.28 L1676.71 1100.06 L1679.71 1100.83 L1682.71 1101.58 L1685.71 1102.32 L1688.71 1103.04 L1691.71 1103.75 L1694.71 1104.45 L1697.71 1105.15 L1700.71 1105.83 L1703.71 1106.51 L1706.71 1107.17 L1709.71 1107.84 L1712.71 1108.49 L1715.71 1109.13 L1718.71 1109.75 L1721.71 1110.34 L1724.71 1110.9 L1727.71 1111.42 L1730.71 1111.9 L1733.71 1112.34 L1736.71 1112.71 L1739.71 1113.03 L1742.71 1113.28 L1745.71 1113.46 L1748.71 1113.56 L1751.71 1113.57 L1754.71 1113.5 L1757.71 1113.33 L1760.71 1113.06 L1763.71 1112.69 L1766.71 1112.2 L1769.71 1111.59 L1772.71 1110.86 L1775.71 1110.01 L1778.71 1109.03 L1781.71 1107.94 L1784.71 1106.73 L1787.71 1105.42 L1790.71 1104.01 L1793.71 1102.49 L1796.71 1100.88 L1799.71 1099.18 L1802.71 1097.4 L1805.71 1095.53 L1808.71 1093.59 L1811.71 1091.58 L1814.71 1089.5 L1817.71 1087.35 L1820.71 1085.15 L1823.71 1082.89 L1826.71 1080.58 L1829.71 1078.23 L1832.71 1075.83 L1835.71 1073.4 L1838.71 1070.93 L1841.71 1068.43 L1844.71 1065.9 L1847.71 1063.35 L1850.71 1060.77 L1853.71 1058.19 L1856.71 1055.59 L1859.71 1052.98 L1862.71 1050.36 L1865.71 1047.75 L1868.71 1045.13 L1871.71 1042.53 L1874.71 1039.93 L1877.71 1037.35 L1880.71 1034.78 L1883.71 1032.23 L1886.71 1029.7 L1889.71 1027.19 L1892.71 1024.7 L1895.71 1022.24 L1898.71 1019.81 L1901.71 1017.4 L1904.71 1015.02 L1907.71 1012.67 L1910.71 1010.36 L1913.71 1008.08 L1916.71 1005.83 L1919.71 1003.63 L1922.71 1001.46 L1923.3 1001.03"/>
<path stroke="#00ff00" d="M203.71 1042.28 L206.71 1039.46 L209.71 1036.71 L212.71 1034.04 L215.71 1031.45 L218.71 1028.92 L221.71 1026.47 L224.71 1024.09 L227.71 1021.78 L230.71 1019.53 L233.71 1017.36 L236.71 1015.25 L239.71 1013.2 L242.71 1011.21 L245.71 1009.29 L248.71 1007.42 L251.71 1005.62 L254.71 1003.87 L257.71 1002.18 L260.71 1000.54 L263.71 998.96 L266.71 997.43 L269.71 995.95 L272.71 994.52 L275.71 993.14 L278.71 991.8 L281.71 990.51 L284.71 989.27 L287.71 988.07 L290.71 986.91 L293.71 985.79 L296.71 984.71 L299.71 983.66 L302.71 982.66 L305.71 981.69 L308.71 980.75 L311.71 979.85 L314.71 978.97 L317.71 978.13 L320.71 977.32 L323.71 976.53 L326.71 975.77 L329.71 975.04 L332.71 974.32 L335.71 973.64 L338.71 972.97 L341.71 972.32 L344.71 971.69 L347.71 971.07 L350.71 970.48 L353.71 969.89 L356.71 969.33 L359.71 968.78 L362.71 968.24 L365.71 967.72 L368.71 967.22 L371.71 966.72 L374.71 966.25 L377.71 965.79 L380.71 965.34 L383.71 964.91 L386.71 964.49 L389.71 964.09 L392.71 963.7 L395.71 963.33 L398.71 962.97 L401.71 962.62 L404.71 962.29 L407.71 961.97 L410.71 961.66 L413.71 961.37 L416.71 961.09 L419.71 960.82 L422.71 960.57 L425.71 960.33 L428.71 960.1 L431.71 959.88 L434.71 959.68 L437.71 959.49 L440.71 959.31 L443.71 959.15 L446.71 958.99 L449.71 958.85 L452.71 958.72 L455.71 958.59 L458.71 958.48 L461.71 958.37 L464.71 958.26 L467.71 958.17 L470.71 958.07 L473.71 957.99 L476.71 957.9 L479.71 957.81 L482.71 957.73 L485.71 957.65 L488.71 957.56 L491.71 957.47 L494.71 957.38 L497.71 957.29 L500.71 957.19 L503.71 957.09 L506.71 956.98 L509.71 956.86 L512.71 956.74 L515.71 956.6 L518.71 956.46 L521.71 956.3 L524.71 956.14 L527.71 955.96 L530.71 955.77 L533.71 955.57 L536.71 955.36 L539.71 955.15 L542.71 954.94 L545.71 954.73 L548.71 954.52 L551.71 954.33 L554.71 954.14 L557.71 953.96 L560.71 953.8 L563.71 953.66 L566.71 953.54 L569.71 953.44 L572.71 953.37 L575.71 953.32 L578.71 953.31 L581.71 953.33 L584.71 953.38 L587.71 953.48 L590.71 953.62 L593.71 953.8 L596.71 954.03 L599.71 954.31 L602.71 954.64 L605.71 955.02 L608.71 955.46 L611.71 955.91 L614.71 956.35 L617.71 956.75 L620.71 957.08 L623.71 957.31 L626.71 957.41 L629.71 957.35 L632.71 957.11 L635.71 956.64 L638.71 955.93 L641.71 954.94 L644.71 953.65 L647.71 952.01 L650.71 950.02 L653.71 947.69 L656.71 945.03 L659.71 942.06 L662.71 938.79 L665.71 935.25 L668.71 931.43 L671.71 927.37 L674.71 923.08 L677.71 918.57 L680.71 913.86 L683.71 908.96 L686.71 903.89 L689.71 898.67 L692.71 893.32 L695.71 887.84 L698.71 882.25 L701.71 876.58 L704.71 870.83 L707.71 864.97 L710.71 858.98 L713.71 852.8 L716.71 846.41 L719.71 839.75 L722.71 832.8 L725.71 825.57 L728.71 818.11 L731.71 810.49 L734.71 802.79 L737.71 795.07 L740.71 787.41 L743.71 779.85 L746.71 772.44 L749.71 765.16 L752.71 758.03 L755.71 751.04 L758.71 744.19 L761.71 737.48 L764.71 730.91 L767.71 724.48 L770.71 718.19 L773.71 712.04 L776.71 706.03 L779.71 700.16 L782.71 694.43 L785.71 688.83 L788.71 683.38 L791.71 678.06 L794.71 672.88 L797.71 667.85 L800.71 662.96 L803.71 658.23 L806.71 653.66 L809.71 649.26 L812.71 645.04 L815.71 641.01 L818.71 637.16 L821.71 633.51 L824.71 630.06 L827.71 626.78 L830.71 623.61 L833.71 620.49 L836.71 617.37 L839.71 614.18 L842.71 610.86 L845.71 607.37 L848.71 603.63 L851.71 599.63 L854.71 595.42 L857.71 591.11 L860.71 586.77 L863.71 582.49 L866.71 578.31 L869.71 574.2 L872.71 570.16 L875.71 566.16 L878.71 562.19 L881.71 558.25 L884.71 554.34 L887.71 550.45 L890.71 546.59 L893.71 542.75 L896.71 538.93 L899.71 535.13 L902.71 531.35 L905.71 527.58 L908.71 523.84 L911.71 520.1 L914.71 516.38 L917.71 512.69 L920.71 509.06 L923.71 505.49 L926.71 502.02 L929.71 498.68 L932.71 495.47 L935.71 492.43 L938.71 489.58 L941.71 486.92 L944.71 484.45 L947.71 482.12 L950.71 479.93 L953.71 477.83 L956.71 475.82 L959.71 473.86 L962.71 471.93 L965.71 470 L968.71 468.05 L971.71 466.06 L974.71 464.02 L977.71 461.94 L980.71 459.82 L983.71 457.66 L986.71 455.47 L989.71 453.26 L992.71 451.03 L995.71 448.79 L998.71 446.56 L1001.71 444.38 L1004.71 442.27 L1007.71 440.26 L1010.71 438.39 L1013.71 436.66 L1016.71 435.07 L1019.71 433.62 L1022.71 432.3 L1025.71 431.1 L1028.71 430.02 L1031.71 429.06 L1034.71 428.19 L1037.71 427.43 L1040.71 426.77 L1043.71 426.19 L1046.71 425.7 L1049.71 425.29 L1052.71 424.97 L1055.71 424.73 L1058.71 424.57 L1061.71 424.49 L1064.71 424.48 L1067.71 424.55 L1070.71 424.68 L1073.71 424.89 L1076.71 425.17 L1079.71 425.51 L1082.71 425.91 L1085.71 426.38 L1088.71 426.91 L1091.71 427.49 L1094.71 428.13 L1097.71 428.83 L1100.71 429.58 L1103.71 430.37 L1106.71 431.22 L1109.71 432.11 L1112.71 433.05 L1115.71 434.03 L1118.71 435.05 L1121.71 436.11 L1124.71 437.21 L1127.71 438.34 L1130.71 439.5 L1133.71 440.68 L1136.71 441.87 L1139.71 443.05 L1142.71 444.22 L1145.71 445.36 L1148.71 446.47 L1151.71 447.53 L1154.71 448.56 L1157.71 449.58 L1160.71 450.64 L1163.71 451.76 L1166.71 452.99 L1169.71 454.36 L1172.71 455.85 L1175.71 457.46 L1178.71 459.19 L1181.71 461 L1184.71 462.91 L1187.71 464.89 L1190.71 466.93 L1193.71 469.03 L1196.71 471.16 L1199.71 473.33 L1202.71 475.55 L1205.71 477.84 L1208.71 480.23 L1211.71 482.75 L1214.71 485.43 L1217.71 488.29 L1220.71 491.36 L1223.71 494.67 L1226.71 498.17 L1229.71 501.81 L1232.71 505.54 L1235.71 509.3 L1238.71 513.03 L1241.71 516.73 L1244.71 520.41 L1247.71 524.1 L1250.71 527.82 L1253.71 531.6 L1256.71 535.45 L1259.71 539.4 L1262.71 543.47 L1265.71 547.68 L1268.71 552.03 L1271.71 556.53 L1274.71 561.15 L1277.71 565.9 L1280.71 570.77 L1283.71 575.75 L1286.71 580.83 L1289.71 586.02 L1292.71 591.29 L1295.71 596.65 L1298.71 602.09 L1301.71 607.59 L1304.71 613.17 L1307.71 618.8 L1310.71 624.48 L1313.71 630.2 L1316.71 635.97 L1319.71 641.76 L1322.71 647.58 L1325.71 653.42 L1328.71 659.26 L1331.71 665.12 L1334.71 670.96 L1337.71 676.8 L1340.71 682.63 L1343.71 688.44 L1346.71 694.23 L1349.71 699.99 L1352.71 705.72 L1355.71 711.42 L1358.71 717.07 L1361.71 722.69 L1364.71 728.25 L1367.71 733.77 L1370.71 739.23 L1373.71 744.65 L1376.71 750.04 L1379.71 755.44 L1382.71 760.86 L1385.71 766.33 L1388.71 771.86 L1391.71 777.48 L1394.71 783.2 L1397.71 789.06 L1400.71 795.07 L1403.71 801.24 L1406.71 807.57 L1409.71 814.06 L1412.71 820.7 L1415.71 827.5 L1418.71 834.44 L1421.71 841.51 L1424.71 848.73 L1427.71 856.07 L1430.71 863.54 L1433.71 871.13 L1436.71 878.84 L1439.71 886.67 L1442.71 894.6 L1445.71 902.64 L1448.71 910.77 L1451.71 919 L1454.71 927.33 L1457.71 935.72 L1460.71 944.17 L1463.71 952.65 L1466.71 961.13 L1469.71 969.59 L1472.71 978.02 L1475.71 986.37 L1478.71 994.64 L1481.71 1002.8 L1484.71 1010.82 L1487.71 1018.69 L1490.71 1026.37 L1493.71 1033.85 L1496.71 1041.11 L1499.71 1048.11 L1502.71 1054.84 L1505.71 1061.28 L1508.71 1067.42 L1511.71 1073.24 L1514.71 1078.73 L1517.71 1083.87 L1520.71 1088.66 L1523.71 1093.08 L1526.71 1097.11 L1529.71 1100.74 L1532.71 1103.97 L1535.71 1106.81 L1538.71 1109.3 L1541.71 1111.49 L1544.71 1113.4 L1547.71 1115.07 L1550.71 1116.55 L1553.71 1117.87 L1556.71 1119.06 L1559.71 1120.18 L1562.71 1121.24 L1565.71 1122.3 L1568.71 1123.38 L1571.71 1124.5 L1574.71 1125.66 L1577.71 1126.86 L1580.71 1128.09 L1583.71 1129.34 L1586.71 1130.62 L1589.71 1131.91 L1592.71 1133.21 L1595.71 1134.53 L1598.71 1135.85 L1601.71 1137.17 L1604.71 1138.5 L1607.71 1139.83 L1610.71 1141.16 L1613.71 1142.5 L1616.71 1143.84 L1619.71 1145.18 L1622.71 1146.53 L1625.71 1147.87 L1628.71 1149.22 L1631.71 1150.57 L1634.71 1151.92 L1637.71 1153.27 L1640.71 1154.63 L1643.71 1155.98 L1646.71 1157.34 L1649.71 1158.69 L1652.71 1160.05 L1655.71 1161.4 L1658.71 1162.76 L1661.71 1164.11 L1664.71 1165.44 L1667.71 1166.76 L1670.71 1168.05 L1673.71 1169.32 L1676.71 1170.54 L1679.71 1171.73 L1682.71 1172.87 L1685.71 1173.96 L1688.71 1174.98 L1691.71 1175.95 L1694.71 1176.84 L1697.71 1177.66 L1700.71 1178.41 L1703.71 1179.1 L1706.71 1179.73 L1709.71 1180.33 L1712.71 1180.89 L1715.71 1181.42 L1718.71 1181.94 L1721.71 1182.46 L1724.71 1182.97 L1727.71 1183.5 L1730.71 1184.03 L1733.71 1184.54 L1736.71 1185.04 L1739.71 1185.49 L1742.71 1185.9 L1745.71 1186.25 L1748.71 1186.52 L1751.71 1186.7 L1754.71 1186.78 L1757.71 1186.75 L1760.71 1186.59 L1763.71 1186.29 L1766.71 1185.83 L1769.71 1185.22 L1772.71 1184.42 L1775.71 1183.43 L1778.71 1182.24 L1781.71 1180.86 L1784.71 1179.3 L1787.71 1177.57 L1790.71 1175.68 L1793.71 1173.65 L1796.71 1171.48 L1799.71 1169.18 L1802.71 1166.77 L1805.71 1164.26 L1808.71 1161.66 L1811.71 1158.98 L1814.71 1156.23 L1817.71 1153.43 L1820.71 1150.58 L1823.71 1147.69 L1826.71 1144.79 L1829.71 1141.87 L1832.71 1138.94 L1835.71 1135.99 L1838.71 1133.03 L1841.71 1130.06 L1844.71 1127.08 L1847.71 1124.08 L1850.71 1121.08 L1853.71 1118.06 L1856.71 1115.03 L1859.71 1111.99 L1862.71 1108.95 L1865.71 1105.89 L1868.71 1102.82 L1871.71 1099.74 L1874.71 1096.65 L1877.71 1093.55 L1880.71 1090.45 L1883.71 1087.34 L1886.71 1084.21 L1889.71 1081.08 L1892.71 1077.95 L1895.71 1074.8 L1898.71 1071.65 L1901.71 1068.49 L1904.71 1065.33 L1907.71 1062.16 L1910.71 1058.98 L1913.71 1055.8 L1916.71 1052.61 L1919.71 1049.42 L1922.71 1046.22 L1923.3 1045.59"/>
<path stroke="#ff00ff" d="M203.71 1085.69 L206.71 1082.29 L209.71 1078.98 L212.71 1075.75 L215.71 1072.61 L218.71 1069.56 L221.71 1066.59 L224.71 1063.71 L227.71 1060.9 L230.71 1058.18 L233.71 1055.53 L236.71 1052.96 L239.71 1050.47 L242.71 1048.05 L245.71 1045.7 L248.71 1043.42 L251.71 1041.22 L254.71 1039.08 L257.71 1037.01 L260.71 1035 L263.71 1033.06 L266.71 1031.18 L269.71 1029.37 L272.71 1027.61 L275.71 1025.91 L278.71 1024.27 L281.71 1022.68 L284.71 1021.15 L287.71 1019.67 L290.71 1018.24 L293.71 1016.86 L296.71 1015.53 L299.71 1014.25 L302.71 1013.01 L305.71 1011.82 L308.71 1010.67 L311.71 1009.56 L314.71 1008.49 L317.71 1007.46 L320.71 1006.47 L323.71 1005.51 L326.71 1004.59 L329.71 1003.7 L332.71 1002.84 L335.71 1002.01 L338.71 1001.2 L341.71 1000.43 L344.71 999.68 L347.71 998.96 L350.71 998.26 L353.71 997.58 L356.71 996.92 L359.71 996.28 L362.71 995.65 L365.71 995.04 L368.71 994.45 L371.71 993.87 L374.71 993.31 L377.71 992.76 L380.71 992.23 L383.71 991.72 L386.71 991.22 L389.71 990.73 L392.71 990.27 L395.71 989.81 L398.71 989.38 L401.71 988.96 L404.71 988.56 L407.71 988.17 L410.71 987.8 L413.71 987.44 L416.71 987.1 L419.71 986.78 L422.71 986.48 L425.71 986.19 L428.71 985.92 L431.71 985.66 L434.71 985.42 L437.71 985.2 L440.71 984.99 L443.71 984.8 L446.71 984.63 L449.71 984.48 L452.71 984.34 L455.71 984.21 L458.71 984.1 L461.71 984 L464.71 983.91 L467.71 983.83 L470.71 983.76 L473.71 983.69 L476.71 983.62 L479.71 983.56 L482.71 983.5 L485.71 983.44 L488.71 983.38 L491.71 983.31 L494.71 983.24 L497.71 983.17 L500.71 983.09 L503.71 983 L506.71 982.9 L509.71 982.78 L512.71 982.66 L515.71 982.52 L518.71 982.36 L521.71 982.19 L524.71 982 L527.71 981.79 L530.71 981.55 L533.71 981.3 L536.71 981.01 L539.71 980.71 L542.71 980.37 L545.71 980.01 L548.71 979.64 L551.71 979.25 L554.71 978.87 L557.71 978.5 L560.71 978.15 L563.71 977.82 L566.71 977.54 L569.71 977.3 L572.71 977.12 L575.71 977.01 L578.71 976.97 L581.71 977.01 L584.71 977.15 L587.71 977.38 L590.71 977.73 L593.71 978.18 L596.71 978.72 L599.71 979.31 L602.71 979.94 L605.71 980.59 L608.71 981.23 L611.71 981.85 L614.71 982.42 L617.71 982.92 L620.71 983.33 L623.71 983.62 L626.71 983.77 L629.71 983.75 L632.71 983.52 L635.71 983.06 L638.71 982.34 L641.71 981.33 L644.71 979.99 L647.71 978.29 L650.71 976.22 L653.71 973.76 L656.71 970.9 L659.71 967.63 L662.71 963.95 L665.71 959.84 L668.71 955.29 L671.71 950.32 L674.71 944.93 L677.71 939.16 L680.71 933.01 L683.71 926.52 L686.71 919.71 L689.71 912.59 L692.71 905.19 L695.71 897.53 L698.71 889.64 L701.71 881.52 L704.71 873.22 L707.71 864.74 L710.71 856.11 L713.71 847.35 L716.71 838.48 L719.71 829.52 L722.71 820.51 L725.71 811.44 L728.71 802.36 L731.71 793.28 L734.71 784.22 L737.71 775.2 L740.71 766.23 L743.71 757.32 L746.71 748.47 L749.71 739.69 L752.71 730.99 L755.71 722.38 L758.71 713.86 L761.71 705.44 L764.71 697.14 L767.71 688.95 L770.71 680.89 L773.71 672.96 L776.71 665.17 L779.71 657.53 L782.71 650.04 L785.71 642.73 L788.71 635.58 L791.71 628.61 L794.71 621.83 L797.71 615.24 L800.71 608.86 L803.71 602.66 L806.71 596.65 L809.71 590.8 L812.71 585.12 L815.71 579.58 L818.71 574.19 L821.71 568.92 L824.71 563.77 L827.71 558.73 L830.71 553.78 L833.71 548.92 L836.71 544.13 L839.71 539.41 L842.71 534.75 L845.71 530.12 L848.71 525.54 L851.71 520.97 L854.71 516.42 L857.71 511.86 L860.71 507.3 L863.71 502.72 L866.71 498.11 L869.71 493.47 L872.71 488.76 L875.71 484.01 L878.71 479.2 L881.71 474.35 L884.71 469.47 L887.71 464.57 L890.71 459.66 L893.71 454.74 L896.71 449.83 L899.71 444.94 L902.71 440.07 L905.71 435.24 L908.71 430.45 L911.71 425.71 L914.71 421.04 L917.71 416.44 L920.71 411.93 L923.71 407.52 L926.71 403.22 L929.71 399.05 L932.71 395.01 L935.71 391.12 L938.71 387.4 L941.71 383.84 L944.71 380.46 L947.71 377.23 L950.71 374.14 L953.71 371.2 L956.71 368.39 L959.71 365.69 L962.71 363.11 L965.71 360.62 L968.71 358.23 L971.71 355.91 L974.71 353.67 L977.71 351.49 L980.71 349.36 L983.71 347.27 L986.71 345.21 L989.71 343.17 L992.71 341.15 L995.71 339.13 L998.71 337.1 L1001.71 335.06 L1004.71 332.99 L1007.71 330.9 L1010.71 328.79 L1013.71 326.7 L1016.71 324.63 L1019.71 322.62 L1022.71 320.67 L1025.71 318.8 L1028.71 317.04 L1031.71 315.41 L1034.71 313.91 L1037.71 312.58 L1040.71 311.43 L1043.71 310.47 L1046.71 309.7 L1049.71 309.1 L1052.71 308.67 L1055.71 308.39 L1058.71 308.25 L1061.71 308.25 L1064.71 308.37 L1067.71 308.6 L1070.71 308.93 L1073.71 309.35 L1076.71 309.85 L1079.71 310.41 L1082.71 311.03 L1085.71 311.69 L1088.71 312.39 L1091.71 313.12 L1094.71 313.88 L1097.71 314.67 L1100.71 315.49 L1103.71 316.35 L1106.71 317.24 L1109.71 318.18 L1112.71 319.16 L1115.71 320.18 L1118.71 321.24 L1121.71 322.36 L1124.71 323.52 L1127.71 324.74 L1130.71 326.01 L1133.71 327.34 L1136.71 328.73 L1139.71 330.17 L1142.71 331.68 L1145.71 333.26 L1148.71 334.9 L1151.71 336.61 L1154.71 338.39 L1157.71 340.25 L1160.71 342.17 L1163.71 344.18 L1166.71 346.27 L1169.71 348.43 L1172.71 350.68 L1175.71 353.01 L1178.71 355.42 L1181.71 357.91 L1184.71 360.48 L1187.71 363.14 L1190.71 365.88 L1193.71 368.7 L1196.71 371.61 L1199.71 374.59 L1202.71 377.66 L1205.71 380.82 L1208.71 384.06 L1211.71 387.38 L1214.71 390.79 L1217.71 394.28 L1220.71 397.86 L1223.71 401.52 L1226.71 405.26 L1229.71 409.1 L1232.71 413.01 L1235.71 417.02 L1238.71 421.11 L1241.71 425.28 L1244.71 429.55 L1247.71 433.9 L1250.71 438.36 L1253.71 442.91 L1256.71 447.56 L1259.71 452.32 L1262.71 457.2 L1265.71 462.18 L1268.71 467.28 L1271.71 472.5 L1274.71 477.85 L1277.71 483.32 L1280.71 488.93 L1283.71 494.67 L1286.71 500.55 L1289.71 506.57 L1292.71 512.73 L1295.71 519.05 L1298.71 525.52 L1301.71 532.14 L1304.71 538.93 L1307.71 545.87 L1310.71 552.99 L1313.71 560.27 L1316.71 567.7 L1319.71 575.26 L1322.71 582.92 L1325.71 590.66 L1328.71 598.45 L1331.71 606.28 L1334.71 614.12 L1337.71 621.95 L1340.71 629.73 L1343.71 637.46 L1346.71 645.11 L1349.71 652.65 L1352.71 660.06 L1355.71 667.36 L1358.71 674.56 L1361.71 681.68 L1364.71 688.74 L1367.71 695.77 L1370.71 702.77 L1373.71 709.78 L1376.71 716.81 L1379.71 723.89 L1382.71 731.02 L1385.71 738.24 L1388.71 745.55 L1391.71 752.99 L1394.71 760.57 L1397.71 768.31 L1400.71 776.21 L1403.71 784.28 L1406.71 792.5 L1409.71 800.87 L1412.71 809.4 L1415.71 818.07 L1418.71 826.89 L1421.71 835.85 L1424.71 844.94 L1427.71 854.18 L1430.71 863.54 L1433.71 873.04 L1436.71 882.66 L1439.71 892.41 L1442.71 902.27 L1445.71 912.25 L1448.71 922.35 L1451.71 932.55 L1454.71 942.82 L1457.71 953.16 L1460.71 963.52 L1463.71 973.9 L1466.71 984.27 L1469.71 994.6 L1472.71 1004.88 L1475.71 1015.08 L1478.71 1025.18 L1481.71 1035.15 L1484.71 1044.97 L1487.71 1054.63 L1490.71 1064.09 L1493.71 1073.32 L1496.71 1082.3 L1499.71 1090.99 L1502.71 1099.35 L1505.71 1107.37 L1508.71 1115 L1511.71 1122.21 L1514.71 1128.98 L1517.71 1135.3 L1520.71 1141.13 L1523.71 1146.46 L1526.71 1151.28 L1529.71 1155.59 L1532.71 1159.45 L1535.71 1162.89 L1538.71 1165.95 L1541.71 1168.69 L1544.71 1171.12 L1547.71 1173.31 L1550.71 1175.28 L1553.71 1177.08 L1556.71 1178.75 L1559.71 1180.3 L1562.71 1181.75 L1565.71 1183.12 L1568.71 1184.45 L1571.71 1185.74 L1574.71 1187.02 L1577.71 1188.31 L1580.71 1189.63 L1583.71 1191.01 L1586.71 1192.44 L1589.71 1193.93 L1592.71 1195.47 L1595.71 1197.06 L1598.71 1198.69 L1601.71 1200.36 L1604.71 1202.07 L1607.71 1203.81 L1610.71 1205.58 L1613.71 1207.37 L1616.71 1209.18 L1619.71 1211.01 L1622.71 1212.85 L1625.71 1214.7 L1628.71 1216.56 L1631.71 1218.41 L1634.71 1220.27 L1637.71 1222.12 L1640.71 1223.96 L1643.71 1225.79 L1646.71 1227.6 L1649.71 1229.38 L1652.71 1231.15 L1655.71 1232.89 L1658.71 1234.6 L1661.71 1236.27 L1664.71 1237.89 L1667.71 1239.44 L1670.71 1240.89 L1673.71 1242.23 L1676.71 1243.44 L1679.71 1244.54 L1682.71 1245.55 L1685.71 1246.49 L1688.71 1247.37 L1691.71 1248.22 L1694.71 1249.06 L1697.71 1249.89 L1700.71 1250.73 L1703.71 1251.57 L1706.71 1252.41 L1709.71 1253.25 L1712.71 1254.09 L1715.71 1254.91 L1718.71 1255.73 L1721.71 1256.54 L1724.71 1257.33 L1727.71 1258.1 L1730.71 1258.85 L1733.71 1259.56 L1736.71 1260.22 L1739.71 1260.82 L1742.71 1261.36 L1745.71 1261.81 L1748.71 1262.17 L1751.71 1262.43 L1754.71 1262.58 L1757.71 1262.61 L1760.71 1262.5 L1763.71 1262.24 L1766.71 1261.83 L1769.71 1261.25 L1772.71 1260.49 L1775.71 1259.55 L1778.71 1258.41 L1781.71 1257.05 L1784.71 1255.48 L1787.71 1253.69 L1790.71 1251.71 L1793.71 1249.52 L1796.71 1247.16 L1799.71 1244.63 L1802.71 1241.93 L1805.71 1239.08 L1808.71 1236.08 L1811.71 1232.95 L1814.71 1229.7 L1817.71 1226.34 L1820.71 1222.88 L1823.71 1219.32 L1826.71 1215.68 L1829.71 1211.96 L1832.71 1208.18 L1835.71 1204.35 L1838.71 1200.48 L1841.71 1196.57 L1844.71 1192.65 L1847.71 1188.7 L1850.71 1184.76 L1853.71 1180.8 L1856.71 1176.85 L1859.71 1172.89 L1862.71 1168.94 L1865.71 1164.98 L1868.71 1161.02 L1871.71 1157.05 L1874.71 1153.09 L1877.71 1149.13 L1880.71 1145.17 L1883.71 1141.21 L1886.71 1137.25 L1889.71 1133.3 L1892.71 1129.34 L1895.71 1125.4 L1898.71 1121.45 L1901.71 1117.51 L1904.71 1113.57 L1907.71 1109.64 L1910.71 1105.71 L1913.71 1101.79 L1916.71 1097.87 L1919.71 1093.96 L1922.71 1090.06 L1923.3 1089.29"/>
<path stroke="#00ffff" d="M203.71 1129.38 L206.71 1125.46 L209.71 1121.64 L212.71 1117.91 L215.71 1114.27 L218.71 1110.73 L221.71 1107.28 L224.71 1103.91 L227.71 1100.64 L230.71 1097.45 L233.71 1094.35 L236.71 1091.33 L239.71 1088.39 L242.71 1085.54 L245.71 1082.76 L248.71 1080.06 L251.71 1077.44 L254.71 1074.9 L257.71 1072.43 L260.71 1070.04 L263.71 1067.71 L266.71 1065.46 L269.71 1063.27 L272.71 1061.15 L275.71 1059.1 L278.71 1057.12 L281.71 1055.19 L284.71 1053.33 L287.71 1051.53 L290.71 1049.79 L293.71 1048.11 L296.71 1046.48 L299.71 1044.91 L302.71 1043.39 L305.71 1041.93 L308.71 1040.52 L311.71 1039.15 L314.71 1037.84 L317.71 1036.57 L320.71 1035.35 L323.71 1034.17 L326.71 1033.03 L329.71 1031.94 L332.71 1030.89 L335.71 1029.87 L338.71 1028.89 L341.71 1027.95 L344.71 1027.05 L347.71 1026.17 L350.71 1025.33 L353.71 1024.52 L356.71 1023.74 L359.71 1022.99 L362.71 1022.26 L365.71 1021.56 L368.71 1020.88 L371.71 1020.23 L374.71 1019.59 L377.71 1018.98 L380.71 1018.38 L383.71 1017.8 L386.71 1017.24 L389.71 1016.7 L392.71 1016.18 L395.71 1015.67 L398.71 1015.18 L401.71 1014.72 L404.71 1014.27 L407.71 1013.84 L410.71 1013.43 L413.71 1013.04 L416.71 1012.67 L419.71 1012.32 L422.71 1011.99 L425.71 1011.68 L428.71 1011.39 L431.71 1011.12 L434.71 1010.88 L437.71 1010.65 L440.71 1010.45 L443.71 1010.26 L446.71 1010.1 L449.71 1009.96 L452.71 1009.84 L455.71 1009.73 L458.71 1009.64 L461.71 1009.56 L464.71 1009.5 L467.71 1009.44 L470.71 1009.4 L473.71 1009.37 L476.71 1009.34 L479.71 1009.33 L482.71 1009.31 L485.71 1009.3 L488.71 1009.29 L491.71 1009.27 L494.71 1009.25 L497.71 1009.22 L500.71 1009.18 L503.71 1009.13 L506.71 1009.06 L509.71 1008.97 L512.71 1008.86 L515.71 1008.73 L518.71 1008.58 L521.71 1008.4 L524.71 1008.18 L527.71 1007.93 L530.71 1007.65 L533.71 1007.33 L536.71 1006.97 L539.71 1006.56 L542.71 1006.11 L545.71 1005.62 L548.71 1005.1 L551.71 1004.56 L554.71 1004.04 L557.71 1003.53 L560.71 1003.05 L563.71 1002.63 L566.71 1002.28 L569.71 1002 L572.71 1001.83 L575.71 1001.76 L578.71 1001.81 L581.71 1001.95 L584.71 1002.19 L587.71 1002.51 L590.71 1002.9 L593.71 1003.35 L596.71 1003.87 L599.71 1004.42 L602.71 1005.02 L605.71 1005.64 L608.71 1006.27 L611.71 1006.91 L614.71 1007.52 L617.71 1008.08 L620.71 1008.58 L623.71 1008.99 L626.71 1009.27 L629.71 1009.36 L632.71 1009.22 L635.71 1008.8 L638.71 1008.04 L641.71 1006.9 L644.71 1005.35 L647.71 1003.37 L650.71 1000.95 L653.71 998.09 L656.71 994.78 L659.71 991.01 L662.71 986.78 L665.71 982.08 L668.71 976.9 L671.71 971.23 L674.71 965.07 L677.71 958.41 L680.71 951.23 L683.71 943.55 L686.71 935.34 L689.71 926.62 L692.71 917.44 L695.71 907.83 L698.71 897.81 L701.71 887.44 L704.71 876.75 L707.71 865.78 L710.71 854.55 L713.71 843.12 L716.71 831.51 L719.71 819.77 L722.71 807.93 L725.71 796.02 L728.71 784.09 L731.71 772.17 L734.71 760.3 L737.71 748.51 L740.71 736.85 L743.71 725.34 L746.71 714.03 L749.71 702.96 L752.71 692.15 L755.71 681.62 L758.71 671.35 L761.71 661.34 L764.71 651.59 L767.71 642.09 L770.71 632.83 L773.71 623.81 L776.71 615.03 L779.71 606.47 L782.71 598.13 L785.71 590.01 L788.71 582.1 L791.71 574.4 L794.71 566.89 L797.71 559.58 L800.71 552.45 L803.71 545.5 L806.71 538.73 L809.71 532.13 L812.71 525.7 L815.71 519.42 L818.71 513.3 L821.71 507.31 L824.71 501.45 L827.71 495.71 L830.71 490.06 L833.71 484.51 L836.71 479.02 L839.71 473.6 L842.71 468.23 L845.71 462.89 L848.71 457.58 L851.71 452.27 L854.71 446.96 L857.71 441.63 L860.71 436.28 L863.71 430.88 L866.71 425.42 L869.71 419.89 L872.71 414.29 L875.71 408.58 L878.71 402.77 L881.71 396.84 L884.71 390.77 L887.71 384.56 L890.71 378.23 L893.71 371.81 L896.71 365.35 L899.71 358.87 L902.71 352.41 L905.71 346 L908.71 339.68 L911.71 333.49 L914.71 327.46 L917.71 321.62 L920.71 316.01 L923.71 310.67 L926.71 305.62 L929.71 300.89 L932.71 296.46 L935.71 292.31 L938.71 288.42 L941.71 284.76 L944.71 281.32 L947.71 278.07 L950.71 275 L953.71 272.07 L956.71 269.27 L959.71 266.58 L962.71 263.98 L965.71 261.44 L968.71 258.94 L971.71 256.47 L974.71 253.99 L977.71 251.49 L980.71 248.96 L983.71 246.35 L986.71 243.66 L989.71 240.89 L992.71 238.04 L995.71 235.15 L998.71 232.24 L1001.71 229.32 L1004.71 226.42 L1007.71 223.56 L1010.71 220.77 L1013.71 218.05 L1016.71 215.44 L1019.71 212.96 L1022.71 210.63 L1025.71 208.47 L1028.71 206.48 L1031.71 204.68 L1034.71 203.05 L1037.71 201.6 L1040.71 200.31 L1043.71 199.18 L1046.71 198.21 L1049.71 197.4 L1052.71 196.74 L1055.71 196.22 L1058.71 195.84 L1061.71 195.6 L1064.71 195.5 L1067.71 195.52 L1070.71 195.66 L1073.71 195.92 L1076.71 196.3 L1079.71 196.78 L1082.71 197.36 L1085.71 198.03 L1088.71 198.79 L1091.71 199.64 L1094.71 200.56 L1097.71 201.55 L1100.71 202.61 L1103.71 203.73 L1106.71 204.91 L1109.71 206.13 L1112.71 207.4 L1115.71 208.71 L1118.71 210.04 L1121.71 211.41 L1124.71 212.81 L1127.71 214.24 L1130.71 215.71 L1133.71 217.23 L1136.71 218.8 L1139.71 220.42 L1142.71 222.1 L1145.71 223.84 L1148.71 225.65 L1151.71 227.54 L1154.71 229.5 L1157.71 231.54 L1160.71 233.68 L1163.71 235.9 L1166.71 238.21 L1169.71 240.61 L1172.71 243.11 L1175.71 245.7 L1178.71 248.4 L1181.71 251.19 L1184.71 254.08 L1187.71 257.08 L1190.71 260.18 L1193.71 263.39 L1196.71 266.71 L1199.71 270.14 L1202.71 273.68 L1205.71 277.33 L1208.71 281.1 L1211.71 284.99 L1214.71 289 L1217.71 293.12 L1220.71 297.38 L1223.71 301.75 L1226.71 306.25 L1229.71 310.88 L1232.71 315.64 L1235.71 320.54 L1238.71 325.56 L1241.71 330.72 L1244.71 336.02 L1247.71 341.46 L1250.71 347.03 L1253.71 352.74 L1256.71 358.58 L1259.71 364.55 L1262.71 370.65 L1265.71 376.87 L1268.71 383.23 L1271.71 389.7 L1274.71 396.29 L1277.71 403 L1280.71 409.83 L1283.71 416.77 L1286.71 423.83 L1289.71 430.99 L1292.71 438.26 L1295.71 445.64 L1298.71 453.12 L1301.71 460.7 L1304.71 468.38 L1307.71 476.16 L1310.71 484.03 L1313.71 492 L1316.71 500.06 L1319.71 508.21 L1322.71 516.44 L1325.71 524.76 L1328.71 533.16 L1331.71 541.64 L1334.71 550.21 L1337.71 558.84 L1340.71 567.55 L1343.71 576.34 L1346.71 585.19 L1349.71 594.12 L1352.71 603.11 L1355.71 612.16 L1358.71 621.27 L1361.71 630.45 L1364.71 639.68 L1367.71 648.97 L1370.71 658.31 L1373.71 667.72 L1376.71 677.2 L1379.71 686.75 L1382.71 696.37 L1385.71 706.08 L1388.71 715.88 L1391.71 725.76 L1394.71 735.75 L1397.71 745.84 L1400.71 756.04 L1403.71 766.35 L1406.71 776.77 L1409.71 787.32 L1412.71 798 L1415.71 808.81 L1418.71 819.77 L1421.71 830.9 L1424.71 842.21 L1427.71 853.72 L1430.71 865.44 L1433.71 877.39 L1436.71 889.58 L1439.71 902.03 L1442.71 914.68 L1445.71 927.44 L1448.71 940.24 L1451.71 952.99 L1454.71 965.65 L1457.71 978.2 L1460.71 990.64 L1463.71 1002.95 L1466.71 1015.12 L1469.71 1027.15 L1472.71 1039.01 L1475.71 1050.7 L1478.71 1062.21 L1481.71 1073.53 L1484.71 1084.64 L1487.71 1095.54 L1490.71 1106.21 L1493.71 1116.65 L1496.71 1126.84 L1499.71 1136.77 L1502.71 1146.42 L1505.71 1155.74 L1508.71 1164.69 L1511.71 1173.25 L1514.71 1181.38 L1517.71 1189.05 L1520.71 1196.2 L1523.71 1202.82 L1526.71 1208.87 L1529.71 1214.3 L1532.71 1219.1 L1535.71 1223.28 L1538.71 1226.91 L1541.71 1230.04 L1544.71 1232.74 L1547.71 1235.07 L1550.71 1237.09 L1553.71 1238.86 L1556.71 1240.43 L1559.71 1241.88 L1562.71 1243.26 L1565.71 1244.63 L1568.71 1246.05 L1571.71 1247.58 L1574.71 1249.24 L1577.71 1251.02 L1580.71 1252.9 L1583.71 1254.87 L1586.71 1256.9 L1589.71 1258.98 L1592.71 1261.09 L1595.71 1263.21 L1598.71 1265.33 L1601.71 1267.43 L1604.71 1269.49 L1607.71 1271.49 L1610.71 1273.43 L1613.71 1275.31 L1616.71 1277.14 L1619.71 1278.94 L1622.71 1280.72 L1625.71 1282.49 L1628.71 1284.25 L1631.71 1286.03 L1634.71 1287.83 L1637.71 1289.66 L1640.71 1291.54 L1643.71 1293.47 L1646.71 1295.47 L1649.71 1297.52 L1652.71 1299.6 L1655.71 1301.7 L1658.71 1303.8 L1661.71 1305.89 L1664.71 1307.95 L1667.71 1309.96 L1670.71 1311.91 L1673.71 1313.77 L1676.71 1315.54 L1679.71 1317.19 L1682.71 1318.71 L1685.71 1320.11 L1688.71 1321.41 L1691.71 1322.64 L1694.71 1323.8 L1697.71 1324.93 L1700.71 1326.05 L1703.71 1327.16 L1706.71 1328.27 L1709.71 1329.37 L1712.71 1330.45 L1715.71 1331.51 L1718.71 1332.54 L1721.71 1333.54 L1724.71 1334.5 L1727.71 1335.41 L1730.71 1336.28 L1733.71 1337.09 L1736.71 1337.84 L1739.71 1338.52 L1742.71 1339.12 L1745.71 1339.64 L1748.71 1340.05 L1751.71 1340.34 L1754.71 1340.51 L1757.71 1340.53 L1760.71 1340.39 L1763.71 1340.08 L1766.71 1339.59 L1769.71 1338.9 L1772.71 1338 L1775.71 1336.88 L1778.71 1335.52 L1781.71 1333.91 L1784.71 1332.04 L1787.71 1329.89 L1790.71 1327.45 L1793.71 1324.73 L1796.71 1321.75 L1799.71 1318.53 L1802.71 1315.07 L1805.71 1311.4 L1808.71 1307.53 L1811.71 1303.48 L1814.71 1299.27 L1817.71 1294.9 L1820.71 1290.4 L1823.71 1285.79 L1826.71 1281.08 L1829.71 1276.28 L1832.71 1271.42 L1835.71 1266.5 L1838.71 1261.55 L1841.71 1256.59 L1844.71 1251.62 L1847.71 1246.66 L1850.71 1241.73 L1853.71 1236.85 L1856.71 1232.02 L1859.71 1227.24 L1862.71 1222.5 L1865.71 1217.81 L1868.71 1213.16 L1871.71 1208.56 L1874.71 1203.99 L1877.71 1199.47 L1880.71 1194.99 L1883.71 1190.54 L1886.71 1186.13 L1889.71 1181.76 L1892.71 1177.42 L1895.71 1173.12 L1898.71 1168.84 L1901.71 1164.6 L1904.71 1160.39 L1907.71 1156.2 L1910.71 1152.05 L1913.71 1147.92 L1916.71 1143.81 L1919.71 1139.73 L1922.71 1135.67 L1923.3 1134.88"/>
</g>
<g fill="none" stroke="#000" stroke-width="4.8" stroke-linecap="round" stroke-dasharray="0.01 20.06">
<path d="M203.75 1791.05H1924.11"/>
<path d="M203.75 1599.95H1924.11"/>
<path d="M203.75 1408.85H1924.11"/>
<path d="M203.75 1217.75H1924.11"/>
<path d="M203.75 1026.65H1924.11"/>
<path d="M203.75 835.55H1924.11"/>
<path d="M203.75 644.45H1924.11"/>
<path d="M203.75 453.35H1924.11"/>
<path d="M203.75 262.25H1924.11"/>
<path d="M203.75 71.15H1924.11"/>
<path d="M203.75 1791.65V69"/>
<path d="M418.67 1791.65V69"/>
<path d="M633.59 1791.65V69"/>
<path d="M848.51 1791.65V69"/>
<path d="M1063.43 1791.65V69"/>
<path d="M1278.35 1791.65V69"/>
<path d="M1493.27 1791.65V69"/>
<path d="M1708.19 1791.65V69"/>
<path d="M1923.11 1791.65V69"/>
</g>
<rect x="748" y="1109" width="512" height="643" fill="#fff"/>
<g fill="none" stroke="#000" stroke-width="5.6" stroke-linecap="round">
<path d="M203.7 1791.05h27.4M203.7 1695.5h13.2M203.7 1599.95h27.4M203.7 1504.4h13.2M203.7 1408.85h27.4M203.7 1313.3h13.2M203.7 1217.75h27.4M203.7 1122.2h13.2M203.7 1026.65h27.4M203.7 931.1h13.2M203.7 835.55h27.4M203.7 740h13.2M203.7 644.45h27.4M203.7 548.9h13.2M203.7 453.35h27.4M203.7 357.8h13.2M203.7 262.25h27.4M203.7 166.7h13.2M203.7 71.15h27.4M203.75 1791.6v-27.4M311.21 1791.6v-13.2M418.67 1791.6v-27.4M526.13 1791.6v-13.2M633.59 1791.6v-27.4M741.05 1791.6v-13.2M848.51 1791.6v-27.4M955.97 1791.6v-13.2M1063.43 1791.6v-27.4M1170.89 1791.6v-13.2M1278.35 1791.6v-27.4M1385.81 1791.6v-13.2M1493.27 1791.6v-27.4M1600.73 1791.6v-13.2M1708.19 1791.6v-27.4M1815.65 1791.6v-13.2M1923.11 1791.6v-27.4"/>
</g>
<rect x="203.7" y="71" width="1722.2" height="1720.6" fill="none" stroke="#000" stroke-width="5.8" stroke-linejoin="round"/>
<g fill="none" stroke-width="8.8" stroke-linecap="round">
<path stroke="#ff0000" d="M753.3 1162.3H839.4"/>
<path stroke="#0000ff" d="M753.3 1269.85H839.4"/>
<path stroke="#ff6633" d="M753.3 1377.4H839.4"/>
<path stroke="#00ff00" d="M753.3 1484.95H839.4"/>
<path stroke="#ff00ff" d="M753.3 1592.5H839.4"/>
<path stroke="#00ffff" d="M753.3 1700.05H839.4"/>
</g>
<text transform="translate(867.21 1191.5) scale(0.9415 1.0000)" font-size="86" text-anchor="start" stroke="#000" stroke-width="0.5"><tspan font-style="italic">U</tspan>(TR_MV)</text>
<text transform="translate(867.11 1299.05) scale(0.9550 1.0000)" font-size="86" text-anchor="start" stroke="#000" stroke-width="0.5"><tspan font-style="italic">U</tspan>(TR_LV)</text>
<text transform="translate(867.17 1406.6) scale(0.9473 1.0000)" font-size="86" text-anchor="start" stroke="#000" stroke-width="0.5"><tspan font-style="italic">U</tspan>(D1_8)</text>
<text transform="translate(867.17 1514.15) scale(0.9473 1.0000)" font-size="86" text-anchor="start" stroke="#000" stroke-width="0.5"><tspan font-style="italic">U</tspan>(D2_8)</text>
<text transform="translate(867.17 1621.7) scale(0.9473 1.0000)" font-size="86" text-anchor="start" stroke="#000" stroke-width="0.5"><tspan font-style="italic">U</tspan>(D3_8)</text>
<text transform="translate(867.17 1729.25) scale(0.9473 1.0000)" font-size="86" text-anchor="start" stroke="#000" stroke-width="0.5"><tspan font-style="italic">U</tspan>(D4_8)</text>
<text transform="translate(174.3 1822.95) scale(0.9450 1.0000)" font-size="92" text-anchor="end" stroke="#000" stroke-width="0.5">0.9</text>
<text transform="translate(174.3 1631.85) scale(0.9450 1.0000)" font-size="92" text-anchor="end" stroke="#000" stroke-width="0.5">0.92</text>
<text transform="translate(174.3 1440.75) scale(0.9450 1.0000)" font-size="92" text-anchor="end" stroke="#000" stroke-width="0.5">0.94</text>
<text transform="translate(174.3 1249.65) scale(0.9450 1.0000)" font-size="92" text-anchor="end" stroke="#000" stroke-width="0.5">0.96</text>
<text transform="translate(174.3 1058.55) scale(0.9450 1.0000)" font-size="92" text-anchor="end" stroke="#000" stroke-width="0.5">0.98</text>
<text transform="translate(174.3 867.45) scale(0.9450 1.0000)" font-size="92" text-anchor="end" stroke="#000" stroke-width="0.5">1</text>
<text transform="translate(174.3 676.35) scale(0.9450 1.0000)" font-size="92" text-anchor="end" stroke="#000" stroke-width="0.5">1.02</text>
<text transform="translate(174.3 485.25) scale(0.9450 1.0000)" font-size="92" text-anchor="end" stroke="#000" stroke-width="0.5">1.04</text>
<text transform="translate(174.3 294.15) scale(0.9450 1.0000)" font-size="92" text-anchor="end" stroke="#000" stroke-width="0.5">1.06</text>
<text transform="translate(174.3 103.05) scale(0.9450 1.0000)" font-size="92" text-anchor="end" stroke="#000" stroke-width="0.5">1.08</text>
<text transform="translate(126.79 1912) scale(0.9333 1.0000)" font-size="92" text-anchor="start" stroke="#000" stroke-width="0.5">0:00</text>
<text transform="translate(340.09 1912) scale(0.9452 1.0000)" font-size="92" text-anchor="start" stroke="#000" stroke-width="0.5">3:00</text>
<text transform="translate(556.46 1912) scale(0.9361 1.0000)" font-size="92" text-anchor="start" stroke="#000" stroke-width="0.5">6:00</text>
<text transform="translate(770.8 1912) scale(0.9414 1.0000)" font-size="92" text-anchor="start" stroke="#000" stroke-width="0.5">9:00</text>
<text transform="translate(962.59 1912) scale(0.9472 1.0000)" font-size="92" text-anchor="start" stroke="#000" stroke-width="0.5">12:00</text>
<text transform="translate(1177.79 1912) scale(0.9472 1.0000)" font-size="92" text-anchor="start" stroke="#000" stroke-width="0.5">15:00</text>
<text transform="translate(1392.48 1912) scale(0.9493 1.0000)" font-size="92" text-anchor="start" stroke="#000" stroke-width="0.5">18:00</text>
<text transform="translate(1607.41 1912) scale(0.9486 1.0000)" font-size="92" text-anchor="start" stroke="#000" stroke-width="0.5">21:00</text>
<text transform="translate(1846.29 1912) scale(0.9352 1.0000)" font-size="92" text-anchor="start" stroke="#000" stroke-width="0.5">0:00</text>
<text transform="translate(314.38 143.4) scale(0.9584 1.0000)" font-size="93" text-anchor="start" stroke="#000" stroke-width="0.5"><tspan font-style="italic">U</tspan></text>
<text transform="translate(246.51 264.2) scale(1.0401 1.0000)" font-size="93" text-anchor="start" stroke="#000" stroke-width="0.5"><tspan font-size="86.95">[</tspan>p.u.<tspan font-size="86.95">]</tspan></text>
<text transform="translate(1736.42 1629.2) scale(0.9636 1.0680)" font-size="93" text-anchor="start" stroke="#000" stroke-width="0.5"><tspan font-style="italic">t</tspan></text>
<text transform="translate(1583.63 1749.1) scale(1.0368 1.0000)" font-size="93" text-anchor="start" stroke="#000" stroke-width="0.5"><tspan font-size="86.95">[</tspan>hh:mm<tspan font-size="86.95">]</tspan></text>
</svg>
</body>
</html>
